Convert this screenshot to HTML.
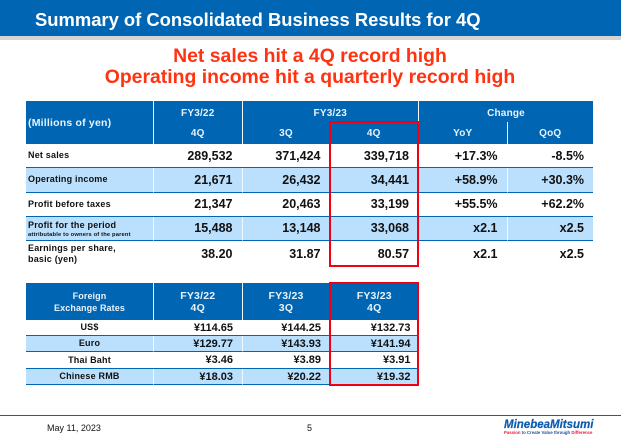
<!DOCTYPE html>
<html lang="en">
<head>
<meta charset="utf-8">
<title>Summary of Consolidated Business Results for 4Q</title>
<style>
html,body{margin:0;padding:0;background:#fff}
body{position:relative;width:621px;height:438px;overflow:hidden;font-family:"Liberation Sans",Arial,sans-serif;color:#111}
.abs{position:absolute}
table{position:absolute;border-collapse:separate;border-spacing:0;table-layout:fixed}
td,th{padding:0;overflow:hidden;white-space:nowrap;box-sizing:border-box}
th{background:#0066b3;color:#e8f2fa;font-weight:bold;font-size:10px;text-align:center;vertical-align:middle;letter-spacing:.2px}
.vl{border-left:1.5px solid #f2f7fb}
.lab{font-weight:bold;font-size:9px;text-align:left;padding-left:2px;letter-spacing:.2px;line-height:11px}
.num{font-weight:bold;font-size:12.5px;text-align:right;padding-right:9px}
.band td{background:#bbe0fd}
.band td+td{border-left:1.5px solid #f2f7fb}
.sep td{border-bottom:1px solid #0066b3}
small{display:block;font-size:5.8px;line-height:8px;letter-spacing:.15px}
#fx .lab{text-align:center;padding:1px 0 0}
#fx .num{font-size:11px;padding:1px 8.5px 0 0}
#fx th{font-size:9px;line-height:12px;letter-spacing:.1px;padding-top:1px}
#fx th.big{font-size:10.5px;letter-spacing:.2px}
#results .top th{padding-top:3px}
</style>
</head>
<body>
<div class="abs" style="left:0;top:0;width:621px;height:36px;background:#0066b3"></div>
<div class="abs" style="left:0;top:36px;width:621px;height:4px;background:#d4d4d4"></div>
<div class="abs" style="left:35px;top:9px;font-size:18.4px;line-height:22px;font-weight:bold;color:#fff;white-space:nowrap">Summary of Consolidated Business Results for 4Q</div>
<div class="abs" style="left:0;top:46px;width:620px;text-align:center;font-size:19.4px;line-height:21px;font-weight:bold;color:#ff3311">
<div>Net sales hit a 4Q record high</div>
<div>Operating income hit a quarterly record high</div>
</div>

<table id="results" style="left:26px;top:101px;width:567px">
<colgroup><col style="width:127px"><col style="width:88.5px"><col style="width:88px"><col style="width:88.5px"><col style="width:88.5px"><col style="width:86.5px"></colgroup>
<tr class="top" style="height:21px">
<th rowspan="2" style="text-align:left;padding:0 0 0 2px;font-size:10.5px">(Millions of yen)</th>
<th class="vl">FY3/22</th>
<th class="vl" colspan="2">FY3/23</th>
<th class="vl" colspan="2">Change</th>
</tr>
<tr style="height:22px">
<th class="vl">4Q</th>
<th class="vl">3Q</th>
<th>4Q</th>
<th class="vl">YoY</th>
<th class="vl">QoQ</th>
</tr>
<tr class="sep" style="height:24px">
<td class="lab">Net sales</td><td class="num">289,532</td><td class="num">371,424</td><td class="num">339,718</td><td class="num">+17.3%</td><td class="num">-8.5%</td>
</tr>
<tr class="band sep" style="height:24.5px">
<td class="lab">Operating income</td><td class="num">21,671</td><td class="num">26,432</td><td class="num">34,441</td><td class="num">+58.9%</td><td class="num">+30.3%</td>
</tr>
<tr class="sep" style="height:24px">
<td class="lab">Profit before taxes</td><td class="num">21,347</td><td class="num">20,463</td><td class="num">33,199</td><td class="num">+55.5%</td><td class="num">+62.2%</td>
</tr>
<tr class="band sep" style="height:24.5px">
<td class="lab" style="padding-top:2px">Profit for the period<small>attributable to owners of the parent</small></td><td class="num">15,488</td><td class="num">13,148</td><td class="num">33,068</td><td class="num">x2.1</td><td class="num">x2.5</td>
</tr>
<tr style="height:25px">
<td class="lab" style="padding-top:1px">Earnings per share,<br>basic (yen)</td><td class="num">38.20</td><td class="num">31.87</td><td class="num">80.57</td><td class="num">x2.1</td><td class="num">x2.5</td>
</tr>
</table>
<div class="abs" style="left:329px;top:121px;width:90px;height:146px;box-sizing:border-box;border:2px solid #f00012"></div>

<table id="fx" style="left:26px;top:283px;width:393px">
<colgroup><col style="width:127px"><col style="width:88.5px"><col style="width:88px"><col style="width:89.5px"></colgroup>
<tr style="height:37px">
<th>Foreign<br>Exchange Rates</th>
<th class="vl big">FY3/22<br>4Q</th>
<th class="vl big">FY3/23<br>3Q</th>
<th class="big">FY3/23<br>4Q</th>
</tr>
<tr class="sep" style="height:15.5px">
<td class="lab">US$</td><td class="num">¥114.65</td><td class="num">¥144.25</td><td class="num">¥132.73</td>
</tr>
<tr class="band sep" style="height:16px">
<td class="lab">Euro</td><td class="num">¥129.77</td><td class="num">¥143.93</td><td class="num">¥141.94</td>
</tr>
<tr class="sep" style="height:17px">
<td class="lab">Thai Baht</td><td class="num">¥3.46</td><td class="num">¥3.89</td><td class="num">¥3.91</td>
</tr>
<tr class="band sep" style="height:16px">
<td class="lab">Chinese RMB</td><td class="num">¥18.03</td><td class="num">¥20.22</td><td class="num">¥19.32</td>
</tr>
</table>
<div class="abs" style="left:329px;top:282px;width:90px;height:104px;box-sizing:border-box;border:2px solid #f00012"></div>

<div class="abs" style="left:0;top:415px;width:621px;height:1px;background:#0066b3"></div>
<div class="abs" style="left:47px;top:423px;font-size:9px;line-height:11px;color:#111">May 11, 2023</div>
<div class="abs" style="left:307px;top:423px;font-size:9px;line-height:11px;color:#111">5</div>
<div class="abs" style="left:504px;top:420px;width:90px;white-space:nowrap">
<div style="font-size:11.5px;line-height:11px;font-weight:bold;font-style:italic;color:#0a5cb0;-webkit-text-stroke:.2px #0a5cb0">MinebeaMitsumi</div>
<div style="font-size:4.3px;line-height:4px;font-weight:bold;color:#1b4f9c"><span style="color:#e6173c">Passion</span> to Create Value through <span style="color:#e6173c">Difference</span></div>
</div>
</body>
</html>
